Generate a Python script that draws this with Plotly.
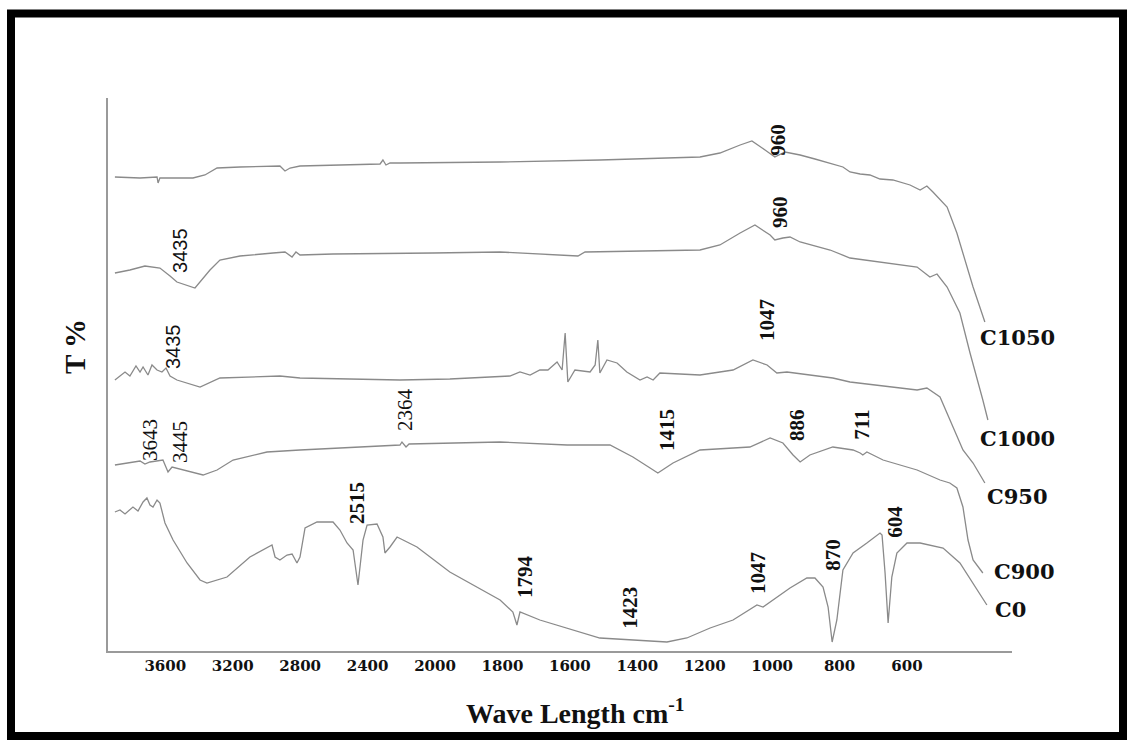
import plotly.graph_objects as go

# ---------------- data (wavenumber cm-1, transmittance offset units) ----------------
wn_c1050 = [3899, 3750, 3649, 3643, 3632, 3436, 3365, 3293, 3157, 2920, 2890, 2860, 2801, 2326, 2309,
            2291, 2267, 2208, 1807, 1511, 1214, 1155, 1095, 1060, 1021, 992, 962, 917, 873, 828, 790,
            769, 739, 710, 680, 642, 591, 561, 541, 523, 481, 452, 428, 404, 369]
t_c1050 = [474, 473, 474, 468, 473, 473, 476, 483, 484, 485, 480, 483, 485, 487, 491,
           486, 488, 488, 489, 491, 494, 498, 506, 510, 501, 494, 499, 496, 492, 488, 484,
           479, 477, 476, 472, 471, 466, 461, 465, 459, 444, 418, 391, 364, 329]

wn_c1000 = [3899, 3810, 3721, 3632, 3572, 3531, 3424, 3335, 3276, 3157, 2961, 2890, 2848, 2825, 2801,
            2605, 2012, 1807, 1576, 1555, 1214, 1155, 1095, 1051, 1006, 992, 968, 947, 917, 828,
            769, 680, 570, 532, 511, 481, 443, 413, 384, 375, 360]
t_c1000 = [378, 381, 385, 383, 375, 369, 363, 381, 391, 395, 398, 399, 394, 399, 396,
           397, 398, 399, 395, 399, 401, 406, 418, 426, 416, 411, 413, 414, 409, 401,
           393, 389, 384, 374, 377, 364, 338, 298, 264, 251, 231]

wn_c950 = [3899, 3839, 3810, 3774, 3750, 3732, 3703, 3679, 3649, 3620, 3596, 3572, 3531, 3394, 3276,
           2920, 2801, 2208, 1956, 1807, 1778, 1748, 1718, 1689, 1665, 1638, 1623, 1614, 1606, 1585,
           1540, 1525, 1517, 1511, 1490, 1460, 1431, 1392, 1371, 1353, 1333, 1214, 1116, 1057, 1015,
           986, 956, 820, 769, 570, 541, 502, 473, 434, 404, 369]
t_c950 = [271, 279, 275, 285, 279, 284, 276, 286, 281, 279, 283, 275, 271, 264, 273,
          275, 273, 271, 272, 274, 275, 279, 276, 281, 281, 289, 281, 318, 269, 281,
          279, 286, 311, 278, 291, 288, 279, 271, 274, 271, 278, 276, 281, 291, 286,
          278, 279, 273, 269, 261, 263, 254, 231, 201, 188, 168]

wn_c900 = [3899, 3810, 3750, 3721, 3691, 3614, 3584, 3560, 3495, 3376, 3293, 3198, 2997, 2801, 2208,
           2196, 2172, 2154, 1807, 1608, 1481, 1413, 1362, 1339, 1294, 1214, 1066, 1006, 968, 938,
           917, 888, 820, 760, 739, 731, 719, 671, 570, 502, 473, 452, 434, 419, 404, 375]
t_c900 = [186, 188, 190, 187, 189, 191, 179, 184, 181, 176, 181, 191, 199, 201, 206,
          209, 204, 207, 209, 206, 206, 194, 183, 178, 188, 201, 204, 213, 208, 196,
          189, 196, 204, 201, 198, 196, 199, 191, 181, 171, 168, 163, 144, 111, 91, 78]

wn_c0 = [3899, 3869, 3839, 3792, 3762, 3732, 3709, 3691, 3673, 3649, 3632, 3602, 3554, 3471, 3394,
         3353, 3234, 3098, 2967, 2949, 2920, 2878, 2848, 2819, 2801, 2771, 2700, 2605, 2564, 2522,
         2486, 2457, 2427, 2403, 2344, 2309, 2297, 2267, 2225, 2107, 1956, 1807, 1769, 1757, 1748,
         1689, 1511, 1312, 1253, 1184, 1116, 1045, 1027, 947, 897, 873, 849, 834, 822, 808,
         790, 760, 719, 680, 674, 665, 656, 645, 630, 600, 561, 493, 443, 404, 363]
t_c0 = [139, 141, 137, 144, 140, 149, 153, 146, 144, 151, 148, 128, 111, 88, 71,
        68, 74, 94, 106, 94, 91, 96, 97, 88, 94, 123, 129, 129, 121, 108,
        101, 66, 111, 126, 127, 114, 98, 104, 114, 104, 79, 51, 39, 26, 39,
        31, 13, 9, 13, 23, 31, 46, 44, 63, 73, 73, 64, 44, 9, 31,
        81, 98, 108, 118, 116, 78, 28, 74, 98, 108, 108, 103, 88, 68, 46]

series_names = ["C1050", "C1000", "C950", "C900", "C0"]
series_wn = [wn_c1050, wn_c1000, wn_c950, wn_c900, wn_c0]
series_t = [t_c1050, t_c1000, t_c950, t_c900, t_c0]

# peak labels: text, wavenumber position, transmittance position, font family
peak_text = ["960", "960", "3435", "3435", "1047", "3643", "3445", "2364", "1415", "886", "711",
             "2515", "1794", "1423", "1047", "870", "604"]
peak_wn = [983, 977, 3513, 3554, 1015, 3691, 3513, 2178, 1312, 926, 734,
           2463, 1733, 1422, 1042, 820, 636]
peak_t = [511, 439, 401, 304, 331, 211, 209, 241, 221, 226, 226,
          148, 74, 43, 78, 96, 129]
peak_sans = [False, False, True, True, False, False, False, False, False, False, False,
             False, False, False, False, False, False]
peak_bold = [True, True, False, False, True, False, False, False, True, True, True,
             True, True, True, True, True, True]

tick_labels = [3600, 3200, 2800, 2400, 2000, 1800, 1600, 1400, 1200, 1000, 800, 600]


def to_pos(wn):
    """FTIR abscissa with the usual 2x scale change below 2000 cm-1."""
    return wn if wn <= 2000 else 2000 + (wn - 2000) / 2


fig = go.Figure()
for name, xs, ys in zip(series_names, series_wn, series_t):
    fig.add_trace(go.Scatter(
        x=[to_pos(v) for v in xs], y=ys, mode="lines", name=name,
        line=dict(color="#8a8a8a", width=1.3), showlegend=False,
        hovertemplate=name + "<extra></extra>",
    ))

# peak annotations
for txt, w, t, sans, bold in zip(peak_text, peak_wn, peak_t, peak_sans, peak_bold):
    fam = "Liberation Sans, Arial, sans-serif" if sans else "Liberation Serif, Times New Roman, serif"
    fig.add_annotation(
        x=to_pos(w), y=t, xref="x", yref="y",
        text=("<b>%s</b>" % txt) if bold else txt,
        showarrow=False, textangle=-90, xanchor="center", yanchor="middle",
        font=dict(family=fam, size=21 if not sans else 20, color="#111111"),
    )

# series name labels at the right of each curve
label_pos = {"C1050": (0.9624, 0.5678), "C1000": (0.9624, 0.3834), "C950": (0.9701, 0.2785),
             "C900": (0.9779, 0.1429), "C0": (0.9790, 0.0759)}
for name in series_names:
    px, py = label_pos[name]
    fig.add_annotation(
        x=px, y=py, xref="paper", yref="paper", text="<b>%s</b>" % name,
        showarrow=False, xanchor="left", yanchor="middle",
        font=dict(family="DejaVu Serif, serif", size=21, color="#111111"),
    )

# axis titles
fig.add_annotation(
    x=0.5166, y=-0.110, xref="paper", yref="paper",
    text="<b>Wave Length cm<sup>-1</sup></b>", showarrow=False,
    xanchor="center", yanchor="middle",
    font=dict(family="Liberation Serif, Times New Roman, serif", size=28, color="#111111"),
)
fig.add_annotation(
    x=-0.0365, y=0.5497, xref="paper", yref="paper",
    text="<b>T %</b>", showarrow=False, textangle=-90,
    xanchor="center", yanchor="middle",
    font=dict(family="Liberation Serif, Times New Roman, serif", size=29, color="#111111"),
)

# thick black frame around the whole picture
fig.add_shape(type="rect", xref="paper", yref="paper",
              x0=-0.1073, x1=1.1228, y0=-0.1537, y1=1.1528,
              line=dict(color="black", width=8), fillcolor="rgba(0,0,0,0)", layer="above")

fig.update_layout(
    width=1134, height=743, autosize=False,
    margin=dict(l=108, r=122, t=98, b=92),
    paper_bgcolor="white", plot_bgcolor="white",
    xaxis=dict(
        range=[to_pos(3940), 288.5],
        tickvals=[to_pos(v) for v in tick_labels],
        ticktext=[str(v) for v in tick_labels],
        showgrid=False, zeroline=False, showline=True, linecolor="#9a9a9a", linewidth=2,
        ticks="", tickfont=dict(family="DejaVu Serif, serif", size=15, color="#111111",
                                weight="bold"),
    ),
    yaxis=dict(
        range=[0, 553], showgrid=False, zeroline=False, showline=True,
        linecolor="#9a9a9a", linewidth=2, ticks="", showticklabels=False,
    ),
)

fig.write_html("out.html")
